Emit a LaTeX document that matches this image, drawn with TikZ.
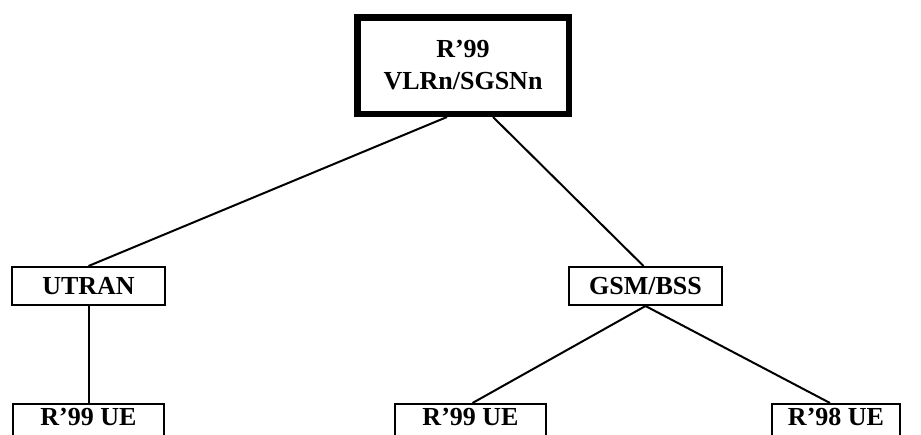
\documentclass[tikz,border=0pt]{standalone}
\usepackage{fontspec}
\setmainfont{Liberation Serif}
\begin{document}
\begin{tikzpicture}[x=1pt,y=-1pt,
  lbl/.style={font=\bfseries\fontsize{26}{32}\selectfont},
  bigbox/.style={draw,line width=6.5pt,lbl,align=center,minimum width=211.5pt,minimum height=96.5pt,inner sep=0pt},
  midbox/.style={draw,line width=2pt,lbl,minimum width=153pt,inner sep=0pt,text height=27pt,text depth=11pt},
  uebox/.style={draw,line width=2pt,lbl,inner sep=0pt,anchor=north,text height=21pt,text depth=22pt},
  conn/.style={line width=2pt}]
\useasboundingbox (0,0) rectangle (921,434);
\begin{scope}
\clip (0,0) rectangle (921,434);
\node[bigbox] (top) at (463,65.5) {R’99\\VLRn/SGSNn};
\node[midbox] (utran) at (88.5,286) {UTRAN};
\node[midbox] (gsm) at (645.5,286) {GSM/BSS};
\node[uebox,minimum width=151pt] (ue1) at (88.5,403) {R’99 UE};
\node[uebox,minimum width=151pt] (ue2) at (470.5,403) {R’99 UE};
\node[uebox,minimum width=128pt] (ue3) at (836,403) {R’98 UE};
\draw[conn] ([xshift=-16pt]top.south) -- (utran.north);
\draw[conn] ([xshift=30pt]top.south) -- ([xshift=-2pt]gsm.north);
\draw[conn] (utran.south) -- (ue1.north);
\draw[conn] (gsm.south) -- ([xshift=2pt]ue2.north);
\draw[conn] (gsm.south) -- ([xshift=-6pt]ue3.north);
\end{scope}
\end{tikzpicture}
\end{document}
